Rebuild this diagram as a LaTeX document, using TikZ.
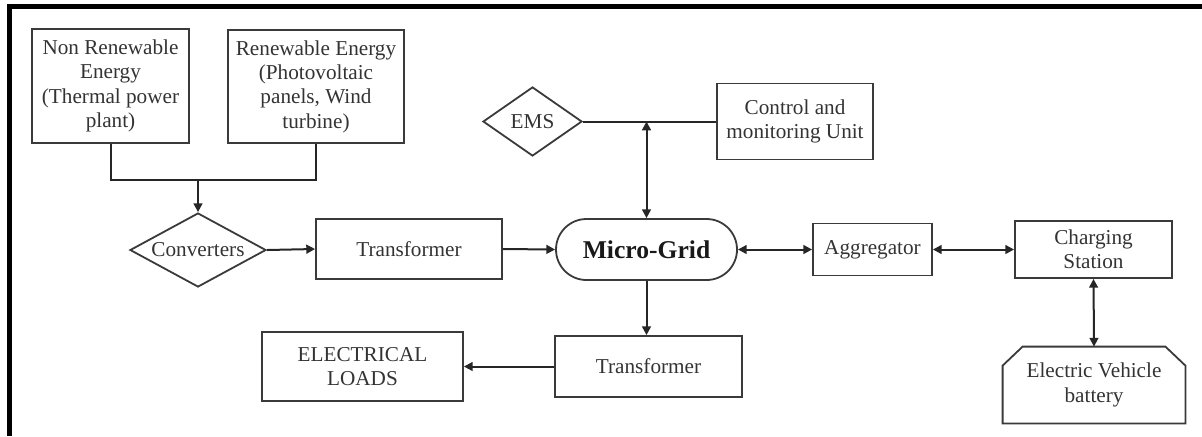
\documentclass[tikz,border=0pt]{standalone}
\usepackage{fontspec}
\setmainfont{Liberation Serif}
\usetikzlibrary{shapes.geometric,arrows.meta,calc}

\definecolor{ink}{HTML}{333333}
\definecolor{edge}{HTML}{3A3A3A}

\tikzset{
  txt/.style={font=\fontsize{10.6}{12.2}\selectfont, text=ink, align=center, inner sep=0pt},
  sz/.style 2 args={minimum width=#1*0.5pt, minimum height=#2*0.5pt},
  box/.style={txt, draw=edge, line width=0.9pt, rectangle},
  decision/.style={txt, draw=edge, line width=0.9pt, diamond},
  hub/.style={txt, draw=edge, line width=0.9pt, rectangle, rounded corners=15.25pt,
              font=\fontsize{12.8}{14}\selectfont\bfseries, text=black!90},
  wire/.style={draw=black!85, line width=1pt},
  tip/.tip={Triangle[length=4.4pt,width=4.4pt]},
  arr/.style={wire, -tip},
  darr/.style={wire, tip-tip},
  frame/.style={draw=black, line width=2.3pt}
}

\begin{document}
\begin{tikzpicture}[x=0.5pt, y=-0.5pt]
  \useasboundingbox (0,0) rectangle (1202,436);

  % outer frame (top and left edges)
  \draw[frame] (9.7,436) -- (9.7,6.4) -- (1202,6.4);

  % energy sources
  \node[box, sz={157}{114}] (nre) at (110.5,86)
    {Non Renewable\\Energy\\(Thermal power\\plant)};
  \node[box, sz={176}{113}] (ren) at (316,86.5)
    {Renewable Energy\\(Photovoltaic\\panels, Wind\\turbine)};

  % conversion chain
  \node[decision, aspect=1.84, sz={136}{74}] (conv) at (198,250) {Converters};
  \node[box, sz={186}{60}] (t1) at (409,249) {Transformer};
  \node[hub, sz={181}{61}] (mg) at (646.5,249.5) {Micro-Grid};

  % management
  \node[decision, aspect=1.43, sz={99}{69}] (ems) at (532.5,121.5) {EMS};
  \node[box, sz={156}{76}] (ctrl) at (795,121.5) {Control and\\monitoring Unit};

  % EV side
  \node[box, sz={119}{52}] (agg) at (872.5,249.5) {Aggregator};
  \node[box, sz={157}{57}] (cs) at (1093.5,249.5) {Charging\\Station};
  \node[txt, sz={182}{76}] (ev) at (1094,385) {Electric Vehicle\\battery};
  \draw[draw=edge, line width=0.9pt]
    (ev.south west) -- ($(ev.north west)+(0,19)$) -- ($(ev.north west)+(20,0)$)
    -- ($(ev.north east)+(-20,0)$) -- ($(ev.north east)+(0,19)$)
    -- (ev.south east) -- cycle;

  % load side
  \node[box, sz={187}{61}] (t2) at (648.5,366.5) {Transformer};
  \node[box, sz={201}{69}] (loads) at (362.5,366.5) {ELECTRICAL\\LOADS};

  % connectors
  \coordinate (j1) at (198,180);
  \draw[wire] (nre.south) |- (j1) -| (ren.south);
  \draw[arr] (j1) -- (conv.north);
  \draw[arr] (conv.east) -- (t1.west);
  \draw[arr] (t1.east) -- (mg.west);

  \draw[wire] (ems.east) -- (ctrl.west);
  \coordinate (j2) at (mg.north |- ems.east);
  \draw[darr] (j2) -- (mg.north);

  \draw[darr] (mg.east) -- (agg.west);
  \draw[darr] (agg.east) -- (cs.west);
  \draw[darr] (cs.south) -- (ev.north);

  \draw[arr] (mg.south) -- (mg.south |- t2.north);
  \draw[arr] (t2.west) -- (loads.east);
\end{tikzpicture}
\end{document}
